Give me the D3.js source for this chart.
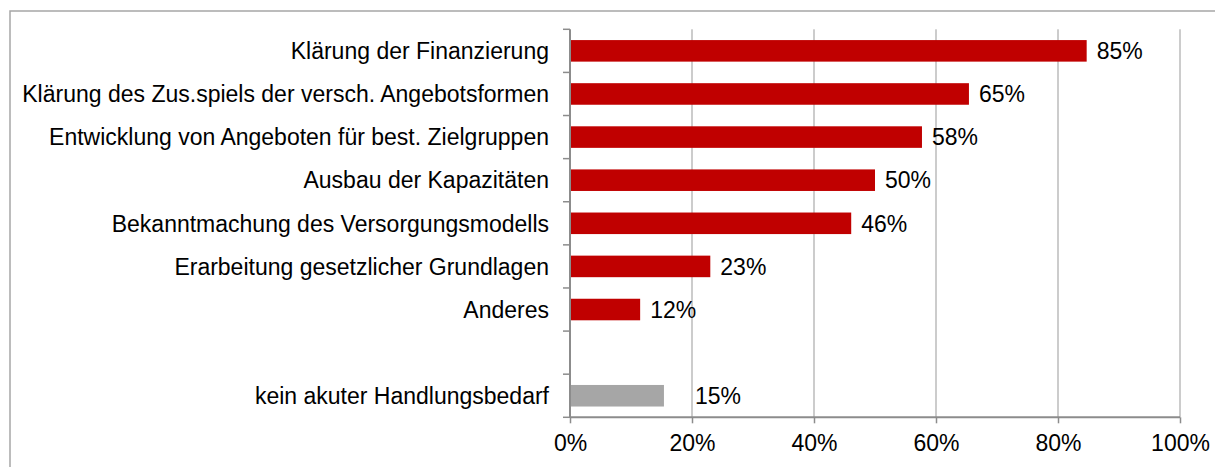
<!DOCTYPE html>
<html>
<head>
<meta charset="utf-8">
<script src="https://cdn.jsdelivr.net/npm/d3@7"></script>
<style>
  body { margin: 0; background: #fff; }
  text { font-family: "Liberation Sans", Arial, sans-serif; fill: #000; }
</style>
</head>
<body>
<div id="chart-area"></div>
<script>
const W = 1215
const H = 467

// data
const categories = [
	"Klärung der Finanzierung",
	"Klärung des Zus.spiels der versch. Angebotsformen",
	"Entwicklung von Angeboten für best. Zielgruppen",
	"Ausbau der Kapazitäten",
	"Bekanntmachung des Versorgungsmodells",
	"Erarbeitung gesetzlicher Grundlagen",
	"Anderes",
	"",
	"kein akuter Handlungsbedarf"
]
const values = [84.7, 65.4, 57.7, 50.0, 46.1, 23.0, 11.5, null, 15.4]
const labels = ["85%", "65%", "58%", "50%", "46%", "23%", "12%", "", "15%"]
const isGray = [false, false, false, false, false, false, false, false, true]
const xTicks = [0, 20, 40, 60, 80, 100]

const FONT = "23px"

const svg = d3.select("#chart-area").append("svg")
	.attr("width", W)
	.attr("height", H)

// outer frame (cut off on right and bottom)
svg.append("rect")
	.attr("x", 10).attr("y", 11)
	.attr("width", W + 20).attr("height", H + 20)
	.attr("fill", "none")
	.attr("stroke", "#a6a6a6")
	.attr("stroke-width", 1.5)

const x = d3.scaleLinear()
	.domain([0, 100])
	.range([570, 1180])

const y = d3.scaleBand()
	.domain(d3.range(categories.length))
	.range([29.3, 417.3])
	.paddingInner(0.5)
	.paddingOuter(0.25)

const yStep = y.step()

// gridlines
svg.append("g")
	.selectAll("line")
	.data(xTicks.slice(1))
	.join("line")
	.attr("x1", d => x(d)).attr("x2", d => x(d))
	.attr("y1", 29.3).attr("y2", 417.3)
	.attr("stroke", "#999")
	.attr("stroke-width", 1)

// bars
svg.append("g")
	.selectAll("rect")
	.data(values.map((v, i) => ({v, i})).filter(d => d.v !== null))
	.join("rect")
	.attr("x", x(0))
	.attr("y", d => y(d.i))
	.attr("width", d => x(d.v) - x(0))
	.attr("height", y.bandwidth())
	.attr("fill", d => isGray[d.i] ? "#a6a6a6" : "#c00000")

// value labels
svg.append("g")
	.selectAll("text")
	.data(values.map((v, i) => ({v, i})).filter(d => d.v !== null))
	.join("text")
	.attr("x", d => x(d.v) + (isGray[d.i] ? 31 : 10))
	.attr("y", d => y(d.i) + y.bandwidth() / 2)
	.attr("dy", "0.36em")
	.attr("font-size", FONT)
	.text(d => labels[d.i])

// category labels
svg.append("g")
	.selectAll("text")
	.data(categories.map((c, i) => ({c, i})))
	.join("text")
	.attr("x", 549)
	.attr("y", d => y(d.i) + y.bandwidth() / 2)
	.attr("dy", "0.36em")
	.attr("text-anchor", "end")
	.attr("font-size", FONT)
	.text(d => d.c)

// y axis line + ticks at category boundaries
const yAxis = svg.append("g")
yAxis.append("line")
	.attr("x1", 570).attr("x2", 570)
	.attr("y1", 29.3).attr("y2", 417.3)
	.attr("stroke", "#8c8c8c").attr("stroke-width", 2)
yAxis.selectAll(".yt")
	.data(d3.range(categories.length + 1))
	.join("line")
	.attr("class", "yt")
	.attr("x1", 563).attr("x2", 570)
	.attr("y1", d => 29.3 + d * yStep).attr("y2", d => 29.3 + d * yStep)
	.attr("stroke", "#8c8c8c").attr("stroke-width", 1.5)

// x axis
const xAxisGroup = svg.append("g")
	.attr("transform", "translate(0,417.3)")
const xAxisCall = d3.axisBottom(x)
	.tickValues(xTicks)
	.tickSize(6)
	.tickPadding(11)
	.tickFormat(d => d + "%")
xAxisGroup.call(xAxisCall)
xAxisGroup.select(".domain")
	.attr("stroke", "#8c8c8c").attr("stroke-width", 2)
	.attr("d", `M${x(0)},0H${x(100)}`)
xAxisGroup.selectAll(".tick line")
	.attr("stroke", "#8c8c8c").attr("stroke-width", 1.5)
xAxisGroup.selectAll(".tick text")
	.attr("font-size", FONT)
	.attr("font-family", "Liberation Sans, Arial, sans-serif")
	.attr("fill", "#000")
</script>
</body>
</html>
